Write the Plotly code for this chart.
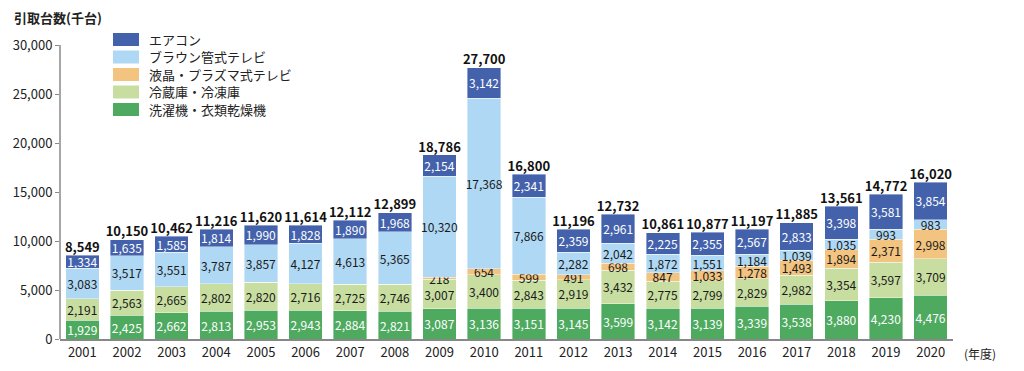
import plotly.graph_objects as go

years = [str(y) for y in range(2001, 2021)]
washer = [1929, 2425, 2662, 2813, 2953, 2943, 2884, 2821, 3087, 3136, 3151, 3145, 3599, 3142, 3139, 3339, 3538, 3880, 4230, 4476]
fridge = [2191, 2563, 2665, 2802, 2820, 2716, 2725, 2746, 3007, 3400, 2843, 2919, 3432, 2775, 2799, 2829, 2982, 3354, 3597, 3709]
lcd = [0, 0, 0, 0, 0, 0, 0, 0, 218, 654, 599, 491, 698, 847, 1033, 1278, 1493, 1894, 2371, 2998]
crt = [3083, 3517, 3551, 3787, 3857, 4127, 4613, 5365, 10320, 17368, 7866, 2282, 2042, 1872, 1551, 1184, 1039, 1035, 993, 983]
ac = [1334, 1635, 1585, 1814, 1990, 1828, 1890, 1968, 2154, 3142, 2341, 2359, 2961, 2225, 2355, 2567, 2833, 3398, 3581, 3854]
totals = [8549, 10150, 10462, 11216, 11620, 11614, 12112, 12899, 18786, 27700, 16800, 11196, 12732, 10861, 10877, 11197, 11885, 13561, 14772, 16020]
y_ticks = [0, 5000, 10000, 15000, 20000, 25000, 30000]

FONT = "Noto Sans CJK JP"
series = [
    ("洗濯機・衣類乾燥機", washer, "#4EAA5F", "white"),
    ("冷蔵庫・冷凍庫", fridge, "#C8DEA1", "#1a1a1a"),
    ("液晶・プラズマ式テレビ", lcd, "#F2C47F", "#1a1a1a"),
    ("ブラウン管式テレビ", crt, "#AFD8F4", "#1a1a1a"),
    ("エアコン", ac, "#4462AC", "white"),
]

# page body has an 8px default margin; compensate
OFF = 8
W, H = 1024 - OFF, 371 - OFF
l, r, t, b = 60 - OFF, 71, 25 - OFF, 32
pw, ph = W - l - r, H - t - b
def px(xs): return (xs - OFF - l) / pw
def py(ys): return (H - b - (ys - OFF)) / ph
ymax = 30000 * ph / 294.0

fig = go.Figure()
for name, vals, color, tcolor in series:
    fig.add_trace(go.Bar(
        x=years, y=vals, name=name,
        marker=dict(color=color, line=dict(color="white", width=0.4)),
        text=[f"{v:,}" if v else "" for v in vals],
        textposition="inside", insidetextanchor="middle", textangle=0,
        textfont=dict(color=tcolor, size=12, family=FONT),
        hoverinfo="skip", showlegend=False,
    ))

fig.add_trace(go.Scatter(
    x=years, y=totals, mode="text",
    text=[f"<b>{v:,}</b>" for v in totals],
    textposition="top center",
    textfont=dict(size=13, color="#111111", family=FONT),
    showlegend=False, hoverinfo="skip", cliponaxis=False,
))

shapes = [
    dict(type="line", xref="paper", yref="y", x0=0, x1=0, y0=0, y1=30000,
         line=dict(color="#888888", width=1.5)),
]
annotations = [
    dict(text="<b>引取台数(千台)</b>", x=px(12), y=py(17), xref="paper", yref="paper",
         xanchor="left", yanchor="middle", showarrow=False, font=dict(size=13)),
    dict(text="(年度)", x=px(962), y=py(353), xref="paper", yref="paper",
         xanchor="left", yanchor="middle", showarrow=False, font=dict(size=12)),
]
legend_rows = [39.5, 57, 74.5, 92, 109.5]
for (name, vals, color, tcolor), yc in zip(reversed(series), legend_rows):
    shapes.append(dict(type="rect", xref="paper", yref="paper",
                       x0=px(113), x1=px(139), y0=py(yc - 6.5), y1=py(yc + 6.5),
                       fillcolor=color, line=dict(width=0)))
    annotations.append(dict(text=name, x=px(147), y=py(yc), xref="paper", yref="paper",
                            xanchor="left", yanchor="middle", showarrow=False,
                            font=dict(size=13, color="#222222")))

fig.update_layout(
    width=W, height=H,
    barmode="stack", bargap=0.25,
    margin=dict(l=l, r=r, t=t, b=b, autoexpand=False),
    paper_bgcolor="white", plot_bgcolor="white",
    font=dict(family=FONT, size=13, color="#222222"),
    uniformtext=dict(minsize=12, mode="show"),
    showlegend=False,
    xaxis=dict(
        showline=True, linecolor="#888888", linewidth=2,
        ticks="", showgrid=False, range=[-0.5, 19.5],
        tickfont=dict(size=13, color="#222222"), automargin=False,
    ),
    yaxis=dict(
        range=[0, ymax], tickvals=y_ticks,
        tickformat=",", showgrid=False, showline=False,
        ticks="outside", ticklen=4, tickcolor="#888888",
        tickfont=dict(size=13, color="#222222"), zeroline=False, automargin=False,
    ),
    shapes=shapes,
    annotations=annotations,
)

fig.write_html("out.html")
